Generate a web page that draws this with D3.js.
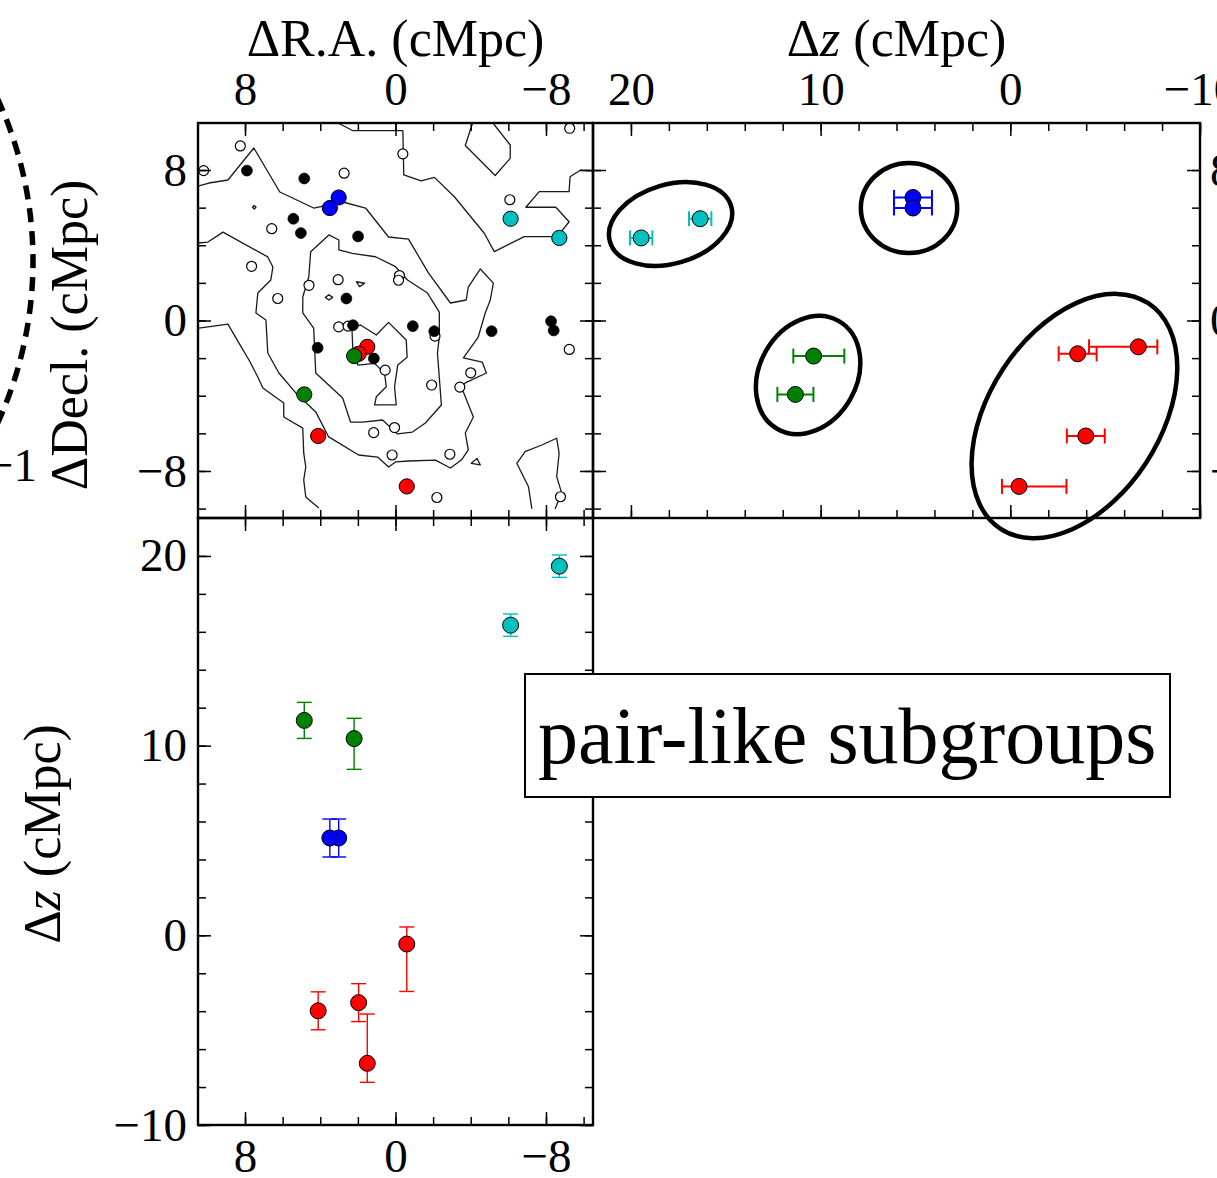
<!DOCTYPE html>
<html>
<head>
<meta charset="utf-8">
<script src="https://cdn.jsdelivr.net/npm/d3@7/dist/d3.min.js"></script>
<style>
  html, body { margin: 0; padding: 0; background: #fff; overflow: hidden; }
  svg { display: block; }
</style>
</head>
<body>
<script>
// ---------------------------------------------------------------
// Data (all positions in comoving Mpc)
// ---------------------------------------------------------------

// Tick values and labelled ticks
const posTickValues = [-10, -8, -6, -4, -2, 0, 2, 4, 6, 8];
const posLabelValues = [8, 0, -8];
const dzTickValues = [-10, -8, -6, -4, -2, 0, 2, 4, 6, 8, 10, 12, 14, 16, 18, 20];
const dzLabelValues = [20, 10, 0, -10];

// Spectroscopic members without a redshift-space subgroup: [dRA, dDecl]
const openGalaxies = [
  [8.25, 9.28], [-0.39, 8.86], [-9.26, 10.22], [10.2, 7.97], [2.73, 7.83],
  [-6.08, 6.42], [6.58, 4.88], [7.65, 2.88], [3.05, 2.17], [-0.21, 2.39],
  [-0.16, 2.14], [4.6, 1.87], [6.26, 1.17], [3.02, -0.34], [2.52, -0.3],
  [-2.1, -0.83], [-9.24, -1.54], [0.55, -2.64], [-4.0, -2.78], [-1.92, -3.43],
  [-3.42, -3.54], [0.05, -5.69], [1.16, -5.96], [0.18, -7.15], [-2.89, -7.11],
  [-2.2, -9.41], [-8.77, -9.37]
];
const filledGalaxies = [
  [7.9, 7.97], [4.85, 7.55], [5.43, 5.41], [5.03, 4.65], [1.99, 4.47],
  [2.61, 1.17], [2.26, -0.25], [-0.92, -0.3], [-2.06, -0.57], [-5.11, -0.57],
  [-8.27, -0.04], [-8.41, -0.53], [4.14, -1.45], [1.15, -2.02]
];

// Pair-like subgroup members
const groupOrder = ["red", "green", "blue", "cyan"];
const memberGroup   = ["red", "red", "red", "red", "green", "green", "blue", "blue", "cyan", "cyan"];
const memberRA      = [1.50, 1.96, 4.11, -0.60, 2.20, 4.85, 3.02, 3.49, -6.12, -8.71];
const memberDec     = [-1.40, -1.77, -6.14, -8.82, -1.89, -3.93, 6.54, 5.98, 5.41, 4.39];
const memberDz      = [-6.75, -3.55, -3.98, -0.46, 10.37, 11.33, 5.13, 5.13, 16.35, 19.46];
const memberDzErrHi = [2.60, 1.00, 1.00, 0.90, 1.07, 0.95, 1.00, 1.00, 0.59, 0.59];
const memberDzErrLo = [1.00, 1.00, 1.00, 2.50, 1.62, 0.95, 1.00, 1.00, 0.59, 0.59];

// Subgroup outlines in the (dz, dDecl) plane; tilt is counter-clockwise on the page
const hullDz        = [17.91, 5.34, 10.66, -3.38];
const hullDec       = [5.13, 5.98, -2.90, -5.08];
const hullSemiMajor = [3.33, 2.54, 3.27, 7.11];
const hullSemiMinor = [2.08, 2.37, 2.56, 4.51];
const hullTilt      = [16.4, 0, 60.3, 56.8];

// Surface-density contours on the sky: [dRA, dDecl]
const contourOuter = [
  [10.5, 7.15], [9.92, 7.31], [8.91, 7.47], [7.53, 9.17], [6.15, 6.83], [4.35, 5.98],
  [2.81, 6.30], [1.59, 5.98], [0.37, 4.44], [-0.69, 4.33], [-1.75, 2.53], [-2.92, 0.93],
  [-3.76, 1.09], [-3.87, 1.78], [-4.51, 2.74], [-5.20, 1.99], [-5.04, 1.09], [-4.77, 0.40],
  [-4.40, -0.88], [-3.61, -1.99], [-4.61, -2.21], [-4.83, -2.79], [-3.71, -3.32], [-3.39, -3.59],
  [-3.61, -3.80], [-4.14, -5.13], [-3.71, -5.98], [-3.87, -6.88], [-3.50, -7.42], [-2.92, -7.84],
  [-2.12, -7.42], [-0.69, -7.47], [0.00, -7.52], [0.37, -7.79], [0.95, -7.26], [1.96, -7.15],
  [3.55, -6.19], [4.24, -4.86], [5.30, -3.85], [6.20, -2.79], [6.79, -1.73], [6.89, 0.03],
  [7.42, 0.40], [7.32, 1.46], [6.63, 2.15], [6.52, 2.84], [6.79, 3.38], [9.17, 4.70],
  [9.97, 4.17], [10.5, 4.12]
];
const contourLowerLeft = [
  [10.45, -0.40], [8.91, -0.19], [8.32, -1.20], [7.79, -2.10], [7.32, -3.00], [7.05, -3.59],
  [5.94, -4.39], [5.94, -5.13], [4.93, -5.72], [4.88, -7.04], [4.77, -7.79], [4.88, -8.48],
  [4.77, -9.38], [4.08, -9.97]
];
const contourNorthEast = [
  [3.06, 10.5], [2.26, 10.09], [-0.39, 10.09], [-0.44, 7.74], [-1.36, 7.42], [-2.07, 7.61],
  [-3.13, 6.58], [-4.72, 4.64], [-5.25, 3.66], [-6.84, 4.46], [-8.61, 4.46], [-9.23, 5.25],
  [-8.52, 6.02], [-6.93, 6.02], [-7.64, 6.85], [-9.23, 6.85], [-9.28, 7.64], [-9.84, 8.00],
  [-10.5, 7.96]
];
const contourNorthIsland = [
  [-4.10, 10.5], [-3.71, 9.30], [-5.30, 7.71], [-6.10, 8.62], [-6.10, 9.33], [-5.18, 10.5]
];
const contourSouthWest = [
  [-7.25, -10.02], [-7.07, -8.84], [-6.45, -7.59], [-6.89, -6.97], [-7.78, -6.62], [-8.57, -6.26],
  [-8.70, -7.06], [-8.57, -8.30], [-8.84, -9.19], [-8.48, -10.02]
];
const contourMiddle = [
  [4.51, 3.65], [3.54, 4.55], [3.01, 4.28], [3.01, 3.75], [2.30, 3.57], [1.06, 3.39],
  [0.00, 2.86], [-0.64, 2.15], [-1.70, 1.46], [-2.33, 0.45], [-2.33, -0.88], [-2.23, -1.73],
  [-2.44, -4.49], [-1.59, -5.45], [-0.90, -5.93], [-0.11, -6.03], [0.69, -5.29], [1.75, -5.40],
  [2.39, -5.40], [2.81, -4.12], [4.24, -2.79], [4.35, -0.40], [4.93, 0.40], [4.93, 1.25],
  [4.61, 2.31]
];
const contourCore = [
  [2.32, -0.33], [1.86, -0.24], [1.02, -0.77], [0.37, -0.10], [-0.57, -1.04], [-0.62, -1.96],
  [-0.12, -2.37], [0.05, -3.52], [-0.04, -4.49], [1.11, -4.49], [1.02, -4.05], [0.49, -3.52],
  [0.58, -2.81], [1.11, -2.28], [2.00, -2.37], [2.26, -1.74]
];
const contourSpecks = [
  [[2.08, 2.06], [1.64, 1.98], [1.91, 1.80]],
  [[3.73, 1.23], [3.54, 1.37], [3.34, 1.23], [3.54, 1.09]],
  [[7.60, 6.02], [7.51, 6.11], [7.42, 6.02], [7.51, 5.93]],
  [[-4.33, -7.33], [-4.51, -7.68], [-4.03, -7.59]]
];

// ---------------------------------------------------------------
// Layout and scales
// ---------------------------------------------------------------
const W = 1217, H = 1178;
const FONT = "'Liberation Serif', 'Times New Roman', Times, serif";
const TICK_FS = 47, LABEL_FS = 52;
const groupColor = { red: "#ff0000", green: "#008000", blue: "#0000ff", cyan: "#00bfbf" };

const frame = { left: 198, mid: 593, right: 1200, top: 123, midY: 518, bottom: 1125 };

const xRA  = d3.scaleLinear().domain([10.5, -10.5]).range([frame.left, frame.mid]);
const yDec = d3.scaleLinear().domain([-10.5, 10.5]).range([frame.midY, frame.top]);
const yDz  = d3.scaleLinear().domain([-10, 22]).range([frame.bottom, frame.midY]);
const xDz  = d3.scaleLinear().domain([22, -10]).range([frame.mid, frame.right]);

const svg = d3.select("body").append("svg")
  .attr("width", W).attr("height", H)
  .attr("font-family", FONT);

svg.append("rect").attr("width", W).attr("height", H).attr("fill", "#fff");

// Partial ring and tick label from the neighbouring panel on the left
{
  const ring = d3.path();
  ring.arc(-356, 261, 389, -0.55, 0.55);
  svg.append("path").attr("d", ring.toString())
    .attr("fill", "none").attr("stroke", "#000")
    .attr("stroke-width", 5.5).attr("stroke-dasharray", "14,9");
  svg.append("text").attr("x", 37).attr("y", 481).attr("text-anchor", "end")
    .attr("font-size", TICK_FS).text("\u22121");
}

// ---------------------------------------------------------------
// Sky panel (top left): contours and galaxies
// ---------------------------------------------------------------
const skyLine = d3.line().x(d => xRA(d[0])).y(d => yDec(d[1]));
const skyLoop = d3.line().x(d => xRA(d[0])).y(d => yDec(d[1])).curve(d3.curveLinearClosed);

const gContours = svg.append("g")
  .attr("fill", "none").attr("stroke", "#1a1a1a")
  .attr("stroke-width", 1.3).attr("stroke-linejoin", "round");
[contourOuter, contourLowerLeft, contourNorthEast, contourNorthIsland, contourSouthWest]
  .forEach(c => gContours.append("path").attr("d", skyLine(c)));
[contourMiddle, contourCore, ...contourSpecks]
  .forEach(c => gContours.append("path").attr("d", skyLoop(c)));

svg.append("g").selectAll("circle").data(openGalaxies).join("circle")
  .attr("cx", d => xRA(d[0])).attr("cy", d => yDec(d[1])).attr("r", 5)
  .attr("fill", "#fff").attr("stroke", "#000").attr("stroke-width", 1.2);

svg.append("g").selectAll("circle").data(filledGalaxies).join("circle")
  .attr("cx", d => xRA(d[0])).attr("cy", d => yDec(d[1])).attr("r", 5.4)
  .attr("fill", "#000").attr("stroke", "#000").attr("stroke-width", 0.8);

const members = memberGroup.map((g, i) => ({
  group: g, ra: memberRA[i], dec: memberDec[i], dz: memberDz[i],
  hi: memberDzErrHi[i], lo: memberDzErrLo[i]
}));

const CAP = 7.5;
groupOrder.forEach(grp => {
  const col = groupColor[grp];
  const ms = members.filter(m => m.group === grp);

  // sky positions
  svg.append("g").selectAll("circle").data(ms).join("circle")
    .attr("cx", d => xRA(d.ra)).attr("cy", d => yDec(d.dec)).attr("r", 7.6)
    .attr("fill", col).attr("stroke", "#000").attr("stroke-width", 1);

  // dz vs decl (top right) with horizontal error bars
  const gTR = svg.append("g").attr("stroke", col).attr("stroke-width", 2);
  ms.forEach(m => {
    const y = yDec(m.dec), xa = xDz(m.dz + m.hi), xb = xDz(m.dz - m.lo);
    gTR.append("line").attr("x1", xa).attr("x2", xb).attr("y1", y).attr("y2", y);
    gTR.append("line").attr("x1", xa).attr("x2", xa).attr("y1", y - CAP).attr("y2", y + CAP);
    gTR.append("line").attr("x1", xb).attr("x2", xb).attr("y1", y - CAP).attr("y2", y + CAP);
  });
  svg.append("g").selectAll("circle").data(ms).join("circle")
    .attr("cx", d => xDz(d.dz)).attr("cy", d => yDec(d.dec)).attr("r", 8)
    .attr("fill", col).attr("stroke", "#000").attr("stroke-width", 1);

  // dRA vs dz (bottom) with vertical error bars
  const gB = svg.append("g").attr("stroke", col).attr("stroke-width", 1.4);
  ms.forEach(m => {
    const x = xRA(m.ra), ya = yDz(m.dz + m.hi), yb = yDz(m.dz - m.lo);
    gB.append("line").attr("x1", x).attr("x2", x).attr("y1", ya).attr("y2", yb);
    gB.append("line").attr("x1", x - CAP).attr("x2", x + CAP).attr("y1", ya).attr("y2", ya);
    gB.append("line").attr("x1", x - CAP).attr("x2", x + CAP).attr("y1", yb).attr("y2", yb);
  });
  svg.append("g").selectAll("circle").data(ms).join("circle")
    .attr("cx", d => xRA(d.ra)).attr("cy", d => yDz(d.dz)).attr("r", 8)
    .attr("fill", col).attr("stroke", "#000").attr("stroke-width", 1);
});

// Subgroup outlines
const pxPerMpc = Math.abs(xDz(1) - xDz(0));
svg.append("g").selectAll("ellipse").data(hullDz).join("ellipse")
  .attr("transform", (d, i) => `translate(${xDz(hullDz[i])},${yDec(hullDec[i])}) rotate(${-hullTilt[i]})`)
  .attr("rx", (d, i) => hullSemiMajor[i] * pxPerMpc)
  .attr("ry", (d, i) => hullSemiMinor[i] * pxPerMpc)
  .attr("fill", "none").attr("stroke", "#000").attr("stroke-width", 4.5);

// ---------------------------------------------------------------
// Axes: inward ticks on every side, labels on the outer edges
// ---------------------------------------------------------------
const fmt = v => (v < 0 ? "\u2212" + Math.abs(v) : String(v));

function drawAxis(axisFn, scale, transform, tickVals, labelVals, pad) {
  const g = svg.append("g").attr("transform", transform);
  g.call(axisFn(scale).tickValues(tickVals).tickSize(-8).tickPadding(pad)
    .tickFormat(v => (labelVals.includes(v) ? fmt(v) : "")));
  const majors = tickVals.filter(v => (scale === yDz || scale === xDz ? dzLabelValues : posLabelValues).includes(v));
  g.append("g").call(axisFn(scale).tickValues(majors).tickSize(-13).tickFormat(""));
  g.selectAll(".domain").remove();
  g.selectAll("line").attr("stroke", "#000").attr("stroke-width", 1.5);
  g.selectAll("text").attr("font-size", TICK_FS).attr("font-family", FONT).attr("fill", "#000");
}

// sky panel
drawAxis(d3.axisTop, xRA, `translate(0,${frame.top})`, posTickValues, posLabelValues, 18);
drawAxis(d3.axisBottom, xRA, `translate(0,${frame.midY})`, posTickValues, [], 0);
drawAxis(d3.axisLeft, yDec, `translate(${frame.left},0)`, posTickValues, posLabelValues, 11);
drawAxis(d3.axisRight, yDec, `translate(${frame.mid},0)`, posTickValues, [], 0);
// dz vs decl panel
drawAxis(d3.axisTop, xDz, `translate(0,${frame.top})`, dzTickValues, dzLabelValues, 18);
drawAxis(d3.axisBottom, xDz, `translate(0,${frame.midY})`, dzTickValues, [], 0);
drawAxis(d3.axisLeft, yDec, `translate(${frame.mid},0)`, posTickValues, [], 0);
drawAxis(d3.axisRight, yDec, `translate(${frame.right},0)`, posTickValues, posLabelValues, 10);
// dRA vs dz panel
drawAxis(d3.axisTop, xRA, `translate(0,${frame.midY})`, posTickValues, [], 0);
drawAxis(d3.axisBottom, xRA, `translate(0,${frame.bottom})`, posTickValues, posLabelValues, 14);
drawAxis(d3.axisLeft, yDz, `translate(${frame.left},0)`, dzTickValues, dzLabelValues, 11);
drawAxis(d3.axisRight, yDz, `translate(${frame.mid},0)`, dzTickValues, [], 0);

// Panel frames
const gFrames = svg.append("g").attr("fill", "none").attr("stroke", "#000").attr("stroke-width", 2.4);
gFrames.append("rect").attr("x", frame.left).attr("y", frame.top)
  .attr("width", frame.mid - frame.left).attr("height", frame.midY - frame.top);
gFrames.append("rect").attr("x", frame.mid).attr("y", frame.top)
  .attr("width", frame.right - frame.mid).attr("height", frame.midY - frame.top);
gFrames.append("rect").attr("x", frame.left).attr("y", frame.midY)
  .attr("width", frame.mid - frame.left).attr("height", frame.bottom - frame.midY);

// Axis titles
const titles = svg.append("g").attr("font-size", LABEL_FS).attr("fill", "#000").attr("text-anchor", "middle");
titles.append("text").attr("x", (frame.left + frame.mid) / 2).attr("y", 56).text("\u0394R.A. (cMpc)");
{
  const t = titles.append("text").attr("x", (frame.mid + frame.right) / 2).attr("y", 56);
  t.append("tspan").text("\u0394");
  t.append("tspan").attr("font-style", "italic").text("z");
  t.append("tspan").text(" (cMpc)");
}
titles.append("text").attr("transform", "translate(87,335) rotate(-90)").text("\u0394Decl. (cMpc)");
{
  const t = titles.append("text").attr("transform", "translate(60,834) rotate(-90)");
  t.append("tspan").text("\u0394");
  t.append("tspan").attr("font-style", "italic").text("z");
  t.append("tspan").text(" (cMpc)");
}

// Annotation box
svg.append("rect").attr("x", 525).attr("y", 674).attr("width", 645).attr("height", 123)
  .attr("fill", "#fff").attr("stroke", "#000").attr("stroke-width", 2);
svg.append("text").attr("x", 538).attr("y", 763).attr("font-size", 80).attr("fill", "#000")
  .text("pair-like subgroups");
</script>
</body>
</html>
